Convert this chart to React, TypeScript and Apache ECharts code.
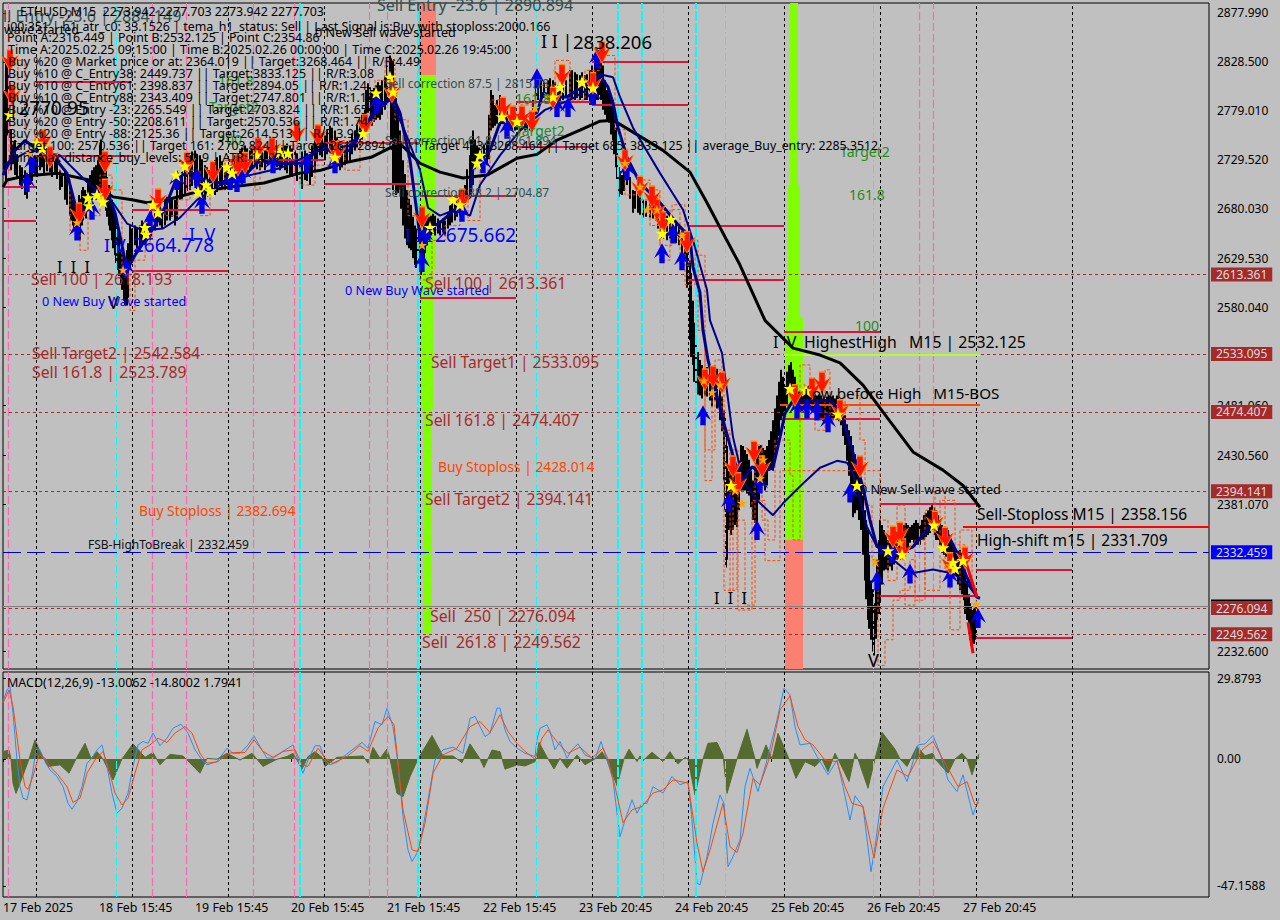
import React, { useEffect, useRef } from "react";
import * as echarts from "echarts";

// ---------- values (bar index, price / indicator value) ----------
const dayLabels = ["17 Feb 2025", "18 Feb 15:45", "19 Feb 15:45", "20 Feb 15:45", "21 Feb 15:45", "22 Feb 15:45", "23 Feb 20:45", "24 Feb 20:45", "25 Feb 20:45", "26 Feb 20:45", "27 Feb 20:45"];
const dayTicks = [0, 96, 192, 288, 384, 480, 576, 672, 768, 864, 960];
const priceTicks = [2877.99, 2828.5, 2779.01, 2729.52, 2680.03, 2629.53, 2580.04, 2481.06, 2430.56, 2381.07, 2232.6];
const macdTicks = [29.8793, 0, -47.1588];
const brownLevels = [2613.361, 2533.095, 2474.407, 2394.141, 2276.094, 2249.562];
const blueLevel = 2332.459;
const bidLevel = 2277.703;

const blackDays = [33, 129, 225, 321, 417, 513, 589, 685, 781, 877, 973, 1069];
const pinkDays = [5, 149, 183, 250, 291, 366, 384, 916, 930];
const cyanThin = [113, 533, 660, 722, 870];
const cyanThick = [297, 415, 615, 639, 693];

// [first bar, last bar, price]
const crimsonLevels = [
  [0, 33, 2701.8], [0, 33, 2667.4], [33, 129, 2808], [33, 129, 2734], [129, 225, 2678.6], [129, 225, 2617],
  [225, 321, 2730], [225, 321, 2687.7], [321, 417, 2746.3], [321, 417, 2704.9], [417, 513, 2692.7], [417, 513, 2589.5],
  [513, 589, 2787.8], [513, 589, 2743], [589, 685, 2828.3], [589, 685, 2784.8], [685, 781, 2662.4], [685, 781, 2607.8],
  [781, 877, 2556], [781, 877, 2468], [877, 973, 2382], [877, 973, 2288], [973, 1069, 2314.4], [973, 1069, 2245.6],
];
const redLevel = [960, 1206, 2358.156];
const limeLevel = [781, 977, 2532.125];
const orangeLevel = [777, 977, 2481.4];

// [first bar, last bar, top price, bottom price]
const limeBands = [
  [415, 433, 2815.2, 2618], [418, 430, 2618, 2476.4], [420, 429, 2476.4, 2250.8],
  [787, 795, 2888.1, 2704], [785, 797, 2704, 2570.4], [782, 800, 2570.4, 2344.8],
];
const salmonBands = [
  [415, 433, 2888.1, 2815.2], [782, 800, 2344.8, 2214.4],
];

// [bar, high, low]
const priceBars = [
  [3,2830,2709],[5,2830,2754],[8,2759.6,2719],[12,2749.5,2714],[17,2724,2704],[22,2719,2694],[27,2729,2704],[32,2734,2714],[37,2739,2719],[41,2739,2714],[47,2739,2717],[52,2734,2714],[57,2719,2699],[62,2719,2689],[67,2704,2673],[70,2689,2663],[73,2684,2653],[76,2694,2653],[79,2699,2663],[82,2699,2673],[85,2709,2684],[89,2719,2689],[93,2724,2689],[97,2744,2694],[100,2739,2694],[103,2719,2678],[106,2704,2663],[109,2689,2648],[112,2673,2633],[115,2663,2618],[118,2638,2603],[121,2633,2587],[124,2638,2582],[127,2663,2618],
  [132,2663,2643],[137,2663,2638],[142,2663,2643],[147,2673,2648],[152,2684,2658],[157,2684,2663],[162,2689,2663],[167,2694,2668],[172,2689,2663],[177,2714,2689],[182,2724,2694],[187,2734,2699],[192,2739,2704],[197,2734,2699],[202,2724,2689],[207,2719,2694],[212,2729,2694],[217,2734,2704],[222,2719,2699],[227,2724,2699],[232,2734,2709],[237,2739,2714],[242,2744,2714],[247,2739,2719],[252,2739,2724],[257,2734,2719],[262,2739,2719],[267,2749,2729],[272,2744,2724],[277,2739,2719],[282,2744,2719],[287,2744,2714],[292,2739,2714],[297,2734,2704],[302,2739,2709],[307,2734,2704],[312,2754,2719],[317,2759,2734],[322,2754,2729],[327,2764,2739],[332,2759,2734],[337,2744,2719],[342,2744,2724],[347,2749,2729],[352,2759,2739],[357,2770,2744],[362,2780,2754],[365,2807,2777],[369,2800,2764],[373,2805,2770],[377,2805,2770],[382,2815,2780],[387,2835,2790],[390,2830,2699],[393,2795,2694],[397,2759,2699],[400,2729,2663],[404,2699,2643],[408,2684,2638],[412,2663,2623],[415,2658,2618],[418,2653,2613],[421,2663,2628],[424,2673,2643],[428,2673,2653],[432,2673,2653],[437,2668,2653],[442,2668,2653],[447,2684,2663],[452,2689,2668],[457,2694,2673],[462,2704,2684],[467,2734,2694],[470,2759,2704],[474,2744,2724],[478,2739,2719],[484,2749,2724],[488,2800,2759],[492,2785,2764],[497,2795,2764],[502,2783,2770],[507,2775,2759],[512,2773,2759],[517,2773,2759],[522,2770,2759],[527,2775,2759],[533,2813,2793],[538,2810,2790],[545,2810,2790],[550,2810,2790],[555,2805,2785],[560,2805,2790],[567,2820,2790],[572,2818,2790],[577,2815,2790],[582,2815,2790],[587,2820,2785],[592,2835,2785],[595,2840,2790],[598,2835,2790],[602,2810,2775],[606,2797,2767],[610,2790,2749],[613,2762,2722],[616,2722,2692],[619,2714,2694],[624,2724,2704],[630,2699,2676],[635,2699,2676],[640,2689,2671],[647,2689,2671],[653,2684,2668],[658,2681,2651],[664,2673,2648],[670,2668,2651],[676,2663,2643],[682,2655,2628],
  [687,2628,2547],[690,2587,2522],[693,2547,2496],[697,2527,2491],[702,2517,2491],[707,2517,2486],[712,2522,2486],[717,2501,2466],[721,2476,2405],[723,2456,2317],[726,2415,2355],[730,2426,2355],[734,2415,2358],[738,2441,2395],[742,2436,2395],[746,2426,2390],[750,2405,2365],[754,2436,2360],[758,2441,2405],[762,2436,2395],[766,2446,2415],[770,2466,2415],[774,2491,2441],[778,2517,2466],[782,2501,2476],[786,2522,2496],[790,2517,2491],[794,2501,2471],[798,2491,2476],[802,2496,2476],[806,2501,2481],[810,2501,2476],[814,2491,2471],[818,2491,2466],[822,2486,2466],[826,2491,2471],[830,2491,2466],[834,2491,2471],[838,2481,2461],[842,2471,2441],[846,2456,2410],[850,2441,2368],[854,2426,2375],[858,2405,2355],[862,2375,2304],[865,2355,2264],[868,2304,2244],[871,2281,2228],[874,2325,2264],[877,2365,2284],[881,2355,2314],[885,2345,2314],[889,2340,2314],[893,2345,2325],[897,2350,2325],[901,2360,2330],[905,2360,2335],[909,2360,2345],[913,2365,2340],[917,2360,2340],[921,2370,2345],[925,2375,2350],[929,2380,2355],[933,2375,2345],[937,2365,2340],[941,2355,2330],[945,2355,2325],[949,2340,2319],[953,2335,2309],[957,2335,2294],[961,2330,2284],[964,2304,2264],[967,2281,2244],[969,2274,2233],[972,2278,2244],
];

// the bars between those above, [bar, high, low]
const priceBarsBetween = [
  [1,2800,2715],[10,2745,2725],[14,2735,2712],[19,2722,2700],[24,2712,2690],[29,2733,2708],[34,2730,2712],[39,2736,2722],[44,2742,2718],[49,2735,2712],[54,2728,2710],[59,2716,2702],[64,2712,2684],[68,2695,2668],[71,2686,2658],[74,2680,2660],[77,2690,2648],[80,2702,2668],[83,2695,2670],[87,2714,2690],[91,2722,2695],[95,2730,2693],[98,2750,2700],[101,2735,2690],[104,2712,2672],[107,2698,2658],[110,2684,2640],[113,2670,2625],[116,2655,2612],[119,2636,2598],[122,2628,2582],[125,2645,2590],[129,2660,2625],[134,2660,2640],[139,2668,2645],[144,2665,2648],[149,2678,2652],[154,2688,2662],[159,2680,2660],[164,2692,2668],[169,2690,2672],[174,2700,2668],[179,2718,2690],[184,2728,2698],[189,2738,2703],[194,2735,2700],[199,2730,2694],[204,2722,2692],[209,2725,2698],[214,2732,2697],[219,2728,2702],[224,2722,2704],[229,2730,2702],[234,2736,2712],[239,2742,2716],[244,2741,2717],[249,2742,2722],[254,2736,2720],[259,2737,2722],[264,2744,2725],[269,2746,2730],[274,2740,2722],[279,2742,2722],[284,2746,2716],[289,2741,2712],[294,2736,2708],[299,2738,2700],[304,2736,2708],[309,2744,2712],[314,2758,2728],[319,2756,2732],[324,2760,2735],[329,2762,2736],[334,2752,2726],[339,2740,2722],[344,2746,2728],[349,2756,2735],[354,2765,2742],[359,2775,2750],[363,2800,2765],[367,2803,2770],[371,2802,2768],[375,2808,2772],[379,2810,2775],[384,2825,2785],[388,2832,2750],[391,2810,2705],[395,2780,2696],[398,2745,2680],[402,2715,2650],[406,2690,2640],[410,2672,2630],[413,2660,2620],[416,2655,2616],[419,2658,2618],[422,2668,2635],[426,2672,2648],[430,2675,2655],[435,2670,2655],[440,2670,2656],[445,2676,2660],[449,2688,2666],[454,2692,2672],[459,2700,2678],[464,2720,2690],[468,2750,2700],[472,2750,2720],[476,2742,2722],[481,2745,2722],[486,2775,2730],[490,2795,2762],[494,2790,2766],[499,2790,2770],[504,2780,2765],[509,2774,2760],[514,2772,2760],[519,2771,2760],[524,2770,2760],[530,2790,2765],[535,2815,2790],[541,2808,2792],[547,2812,2792],[552,2808,2788],[557,2802,2788],[563,2810,2792],[569,2820,2792],[574,2816,2792],[579,2818,2792],[584,2816,2790],[589,2825,2788],[593,2838,2790],[596,2840,2795],[600,2825,2780],[604,2800,2770],[608,2795,2755],[611,2775,2735],[614,2745,2710],[617,2718,2695],[621,2718,2698],[627,2712,2690],[632,2698,2680],[637,2695,2674],[643,2688,2672],[650,2686,2670],[655,2678,2660],[661,2675,2650],[667,2670,2650],[673,2665,2645],[679,2658,2635],[684,2645,2600],[688,2615,2530],[691,2565,2505],[695,2535,2492],[699,2522,2488],[704,2520,2490],[709,2515,2480],[714,2518,2478],[719,2490,2455],[722,2470,2375],[724,2440,2325],[728,2420,2350],[732,2420,2360],[736,2425,2375],[740,2440,2395],[744,2432,2392],[748,2415,2378],[752,2420,2362],[756,2440,2385],[760,2438,2400],[764,2440,2400],[768,2455,2418],[772,2478,2430],[776,2505,2450],[780,2510,2470],[784,2515,2482],[788,2525,2498],[792,2510,2485],[796,2495,2475],[800,2493,2478],[804,2498,2478],[808,2500,2476],[812,2498,2474],[816,2492,2468],[820,2488,2465],[824,2490,2470],[828,2490,2468],[832,2488,2468],[836,2485,2465],[840,2476,2450],[844,2462,2425],[848,2450,2390],[852,2432,2372],[856,2415,2365],[860,2390,2330],[863,2365,2285],[866,2330,2255],[870,2295,2232],[873,2300,2245],[876,2345,2270],[879,2360,2300],[883,2350,2315],[887,2342,2318],[891,2344,2320],[895,2347,2325],[899,2355,2328],[903,2362,2335],[907,2358,2342],[911,2362,2342],[915,2362,2340],[919,2365,2345],[923,2372,2348],[927,2378,2352],[931,2378,2350],[935,2370,2345],[939,2360,2335],[943,2355,2328],[947,2345,2322],[951,2338,2314],[955,2334,2300],[959,2332,2290],[962,2315,2270],[966,2290,2250],[968,2278,2238],[971,2276,2240],
];

const emaLine = [[0,2702],[4,2709],[22,2713],[54,2716],[86,2709],[110,2692],[129,2689],[144,2686],[164,2689],[194,2697],[227,2702],[261,2706],[297,2716],[318,2719],[344,2727],[368,2732],[386,2741],[397,2746],[417,2726],[437,2717],[460,2711],[484,2714],[514,2731],[534,2735],[554,2749.5],[577,2759.6],[597,2768.6],[610,2769.6],[630,2757.5],[660,2739],[687,2717],[704,2686],[717,2661],[737,2623],[762,2567],[790,2539],[817,2532],[837,2524],[860,2501.5],[884,2469],[910,2434],[940,2415.6],[960,2400],[977,2378]];

const fastLine = [[0,2714],[12,2739],[22,2749],[42,2734],[52,2731],[64,2716],[75,2673],[82,2679],[92,2699],[102,2704],[112,2676],[120,2638],[124,2618],[132,2633],[144,2651],[157,2671],[164,2686],[174,2712],[187,2717],[202,2709],[217,2706],[244,2716],[257,2729],[270,2726],[304,2726],[317,2746],[330,2736],[347,2739],[374,2783],[390,2793],[397,2777],[407,2729],[415,2668],[419,2633],[427,2660],[437,2666],[457,2684],[467,2692],[470,2722],[487,2739],[497,2767],[504,2767],[534,2777],[540,2797],[554,2793],[564,2793],[584,2807],[597,2815],[605,2803],[610,2787],[615,2762],[624,2732],[637,2706],[657,2686],[674,2665],[687,2651],[690,2621],[697,2595],[700,2557],[705,2527],[720,2466],[732,2423],[740,2405],[749,2419],[757,2413],[770,2418],[777,2449],[782,2473],[790,2486],[807,2486],[827,2486],[837,2476],[850,2433],[860,2398],[867,2365],[874,2338],[880,2338],[897,2332],[910,2338],[930,2362],[944,2352],[954,2332],[964,2307],[974,2287],[977,2286]];

const slowLine = [[0,2724],[27,2739],[57,2734],[87,2704],[110,2686],[124,2665],[140,2658],[160,2660],[177,2671],[194,2689],[217,2704],[247,2714],[277,2721],[317,2739],[347,2744],[375,2780],[387,2790],[400,2763],[417,2719],[425,2681],[437,2673],[452,2679],[467,2673],[477,2704],[497,2734],[517,2759],[542,2780],[567,2790],[587,2802],[597,2816],[610,2813],[617,2793],[630,2762],[657,2716],[680,2679],[690,2648],[704,2598],[707,2567],[719,2534],[730,2449],[740,2405],[754,2385],[770,2370],[780,2382],[800,2402],[817,2418],[834,2425],[844,2423],[850,2413],[864,2358],[874,2338],[907,2311],[930,2315],[950,2311],[964,2301],[974,2287]];

const redStrokeA = [[960,2331.6],[974,2287]];
const redStrokeB = [[965,2261.8],[970,2230.4]];

const zigzagA = [[0,2719],[7,2790],[15,2830],[22,2760],[32,2739],[47,2729],[57,2714],[67,2658],[77,2638],[85,2673],[97,2714],[109,2699],[119,2618],[127,2577],[132,2628],[142,2643],[147,2679],[162,2673],[175,2689],[187,2719],[197,2673],[207,2699],[222,2729],[237,2734],[252,2699],[257,2739],[277,2744],[297,2704],[312,2724],[327,2749],[342,2719],[357,2770],[372,2810],[382,2830],[392,2770],[405,2673],[417,2608],[429,2648],[442,2663],[457,2699],[465,2668],[477,2719],[487,2790],[502,2754],[517,2785],[532,2805],[552,2830],[567,2790],[582,2820],[597,2835],[612,2760],[622,2694],[637,2709],[647,2663],[657,2628],[667,2679],[677,2623],[687,2648],[695,2557],[702,2436],[712,2527],[719,2456],[727,2294],[734,2365],[742,2279],[752,2441],[759,2365],[765,2345],[772,2446],[787,2410],[790,2345],[797,2522],[807,2507],[812,2456],[822,2517],[827,2471],[842,2491],[857,2446],[862,2380],[869,2325],[875,2218],[882,2244],[890,2284],[897,2294],[907,2325],[912,2284],[922,2375],[932,2395],[942,2314],[947,2254],[957,2355],[969,2294]];
const zigzagB = [[637,2689],[647,2699],[657,2643],[669,2684],[682,2603],[692,2633],[702,2405],[709,2517],[721,2294],[730,2436],[735,2274],[749,2385],[762,2324],[777,2415],[877,2365],[885,2304],[894,2380],[902,2279],[912,2345],[922,2294],[937,2385],[952,2340],[962,2314]];

const redArrows = [[7,2830],[9,2795],[40,2749],[47,2732],[102,2727],[102,2699],[76,2675],[155,2689],[184,2726],[210,2717],[235,2724],[242,2726],[294,2757],[315,2754],[255,2741],[269,2741],[334,2737],[362,2765],[389,2798],[419,2671],[459,2689],[500,2782],[510,2773],[519,2773],[529,2768],[550,2792],[559,2815],[590,2807],[599,2838],[622,2729],[637,2702],[649,2692],[654,2679],[660,2666],[684,2646],[702,2507],[710,2510],[719,2504],[730,2419],[735,2402],[751,2434],[759,2419],[792,2491],[809,2498],[819,2504],[837,2476],[857,2419],[890,2348],[897,2352],[900,2335],[932,2363],[942,2347],[947,2321],[962,2327]];
const blueArrows = [[24,2707],[74,2658],[89,2679],[29,2726],[174,2709],[194,2711],[147,2668],[199,2685],[234,2707],[227,2709],[123,2620],[240,2716],[270,2726],[304,2726],[332,2726],[374,2787],[419,2626],[422,2653],[459,2677],[480,2726],[504,2761],[554,2783],[565,2783],[590,2795],[594,2832],[534,2812],[624,2719],[659,2635],[670,2655],[679,2628],[700,2471],[726,2383],[754,2355],[757,2402],[804,2478],[814,2476],[794,2478],[825,2464],[847,2393],[874,2304],[889,2332],[907,2311],[947,2307],[975,2266]];
const yellowStars = [[7,2775],[34,2746],[39,2741],[85,2691],[86,2683],[94,2694],[100,2687],[142,2661],[143,2654],[150,2684],[155,2676],[173,2714],[182,2723],[195,2697],[203,2704],[207,2698],[224,2722],[229,2716],[277,2737],[285,2736],[332,2732],[254,2734],[360,2756],[373,2797],[387,2813],[390,2798],[427,2661],[474,2726],[477,2734],[450,2689],[457,2684],[499,2773],[514,2768],[557,2803],[550,2793],[579,2808],[590,2802],[668,2669],[659,2655],[728,2400],[787,2498],[803,2496],[835,2472],[854,2400],[885,2334],[899,2330],[931,2360],[940,2337],[950,2322],[952,2316],[960,2324]];
const orangeStars = [[74,2666],[120,2618],[27,2736],[419,2643],[532,2782],[622,2726],[637,2702],[644,2679],[654,2679],[660,2655],[679,2653],[701,2506],[709,2494],[717,2502],[732,2395],[739,2382],[760,2426],[757,2407],[872,2323],[973,2280],[897,2342],[940,2337],[947,2319]];

const macdMain = [[0,21.3],[4,25.7],[7,26.9],[10,17],[14,-0.4],[17,-10.3],[20,-14.6],[24,-15.2],[27,-10.3],[30,-4.1],[33,3.4],[37,3.4],[42,-1],[47,-4.1],[54,-6.5],[60,-10.3],[65,-16.5],[69,-18.7],[74,-15.8],[79,-10.3],[84,-1.6],[89,0.3],[94,3.4],[99,5.2],[104,-2.8],[109,-12.7],[114,-20.2],[119,-18.3],[125,-12.7],[130,-2.8],[135,5.2],[140,6.5],[145,5.8],[150,9.6],[157,4.9],[164,7.7],[170,11.4],[178,12.9],[185,9.6],[192,3.4],[199,-0.4],[204,-2.2],[214,-1],[224,4],[230,2.1],[237,2.1],[245,5.2],[251,8.6],[257,4.6],[264,0.3],[270,0.3],[280,2.8],[290,5.2],[295,-0.4],[300,-5.3],[305,-0.4],[312,4.9],[317,4.9],[322,-0.4],[327,-2.2],[335,-1],[347,2.8],[359,6.1],[365,4],[372,13.9],[379,12.7],[384,18.9],[390,12],[395,-1.6],[400,-21.4],[405,-33.8],[409,-38.1],[414,-35],[419,-27.6],[425,-15.2],[432,-0.4],[440,3.4],[450,4.4],[460,2.1],[467,15.1],[472,15.8],[482,8.3],[487,9.6],[494,18.9],[497,18.9],[502,10.8],[507,6.5],[514,4],[522,2.1],[532,0.9],[534,7.1],[537,11.4],[544,12.7],[547,10.2],[552,3.4],[557,6.5],[564,0.3],[569,3.4],[575,5.6],[582,1.5],[592,-0.1],[598,6.5],[604,-0.4],[610,-7.8],[614,-20.2],[617,-28.9],[622,-22.7],[629,-15.2],[634,-20.2],[639,-16.5],[644,-16.5],[650,-10.3],[660,-12.7],[669,-6.5],[677,-9.6],[685,-8.4],[689,-22.7],[694,-46.2],[697,-46.8],[704,-36.3],[710,-23.9],[717,-13.4],[721,-16.5],[725,-40],[730,-36.3],[737,-30.1],[742,-10.3],[747,-3.5],[755,-12.1],[764,-0.4],[774,14.5],[781,26.3],[787,23.8],[792,12],[797,5.2],[807,5.8],[814,0.9],[825,-5.9],[834,-0.4],[840,-10.3],[847,-22.7],[852,-13.7],[860,-17.7],[868,-41.9],[872,-32.6],[880,-10.3],[894,-0.4],[904,-8.4],[915,5.2],[922,5.6],[930,8.7],[937,2.1],[945,-7.8],[954,-12.1],[960,-5.9],[970,-20.8],[976,-14.6]];

const macdSignal = [[0,20.7],[6,25.7],[10,19.5],[17,-0.4],[22,-10.3],[25,-11.3],[30,-6.5],[36,1.5],[42,0.3],[47,-2.8],[55,-5.9],[64,-10.3],[70,-16.2],[77,-14.6],[84,-5.3],[92,-0.4],[100,2.8],[105,-2.8],[112,-12.7],[119,-17.1],[125,-14.6],[132,-5.3],[139,3.4],[147,5.2],[155,7.7],[164,6.1],[172,9.6],[182,12],[189,9.6],[197,2.1],[204,-1.6],[215,-1],[225,2.1],[234,2.4],[242,2.4],[251,7.1],[260,2.8],[270,0.6],[280,2.8],[292,3.4],[299,-2.2],[305,-2.8],[315,4],[322,0.3],[330,-1.6],[344,0.9],[357,4.9],[365,2.8],[375,11.4],[385,15.8],[391,12.7],[395,-1.6],[400,-18.9],[409,-33.8],[415,-34.4],[422,-23.9],[430,-5.3],[440,1.5],[454,4],[467,12],[477,13.9],[487,9.8],[497,16.4],[505,10.2],[514,5.8],[522,2.8],[532,-0.1],[539,7.7],[545,10.8],[555,5.8],[565,2.1],[577,4.4],[589,0.3],[600,4],[605,-0.1],[612,-10.3],[620,-23.7],[629,-18.9],[639,-17.7],[650,-12.7],[660,-11.5],[670,-7.8],[685,-9],[694,-31.3],[700,-41.9],[707,-33.8],[720,-16.5],[727,-32.6],[734,-34.8],[740,-27.6],[750,-7.2],[757,-9.6],[767,0.9],[777,18.2],[787,23.4],[795,12],[802,7.1],[810,5.2],[822,-0.4],[834,-1],[842,-10.3],[849,-16.5],[860,-17.7],[871,-36.9],[880,-18.3],[894,-4.1],[905,-6.5],[919,3.4],[930,6.5],[944,-2.8],[955,-10.3],[964,-8.4],[972,-17.1],[976,-16.2]];

const macdHist = [[0,2.7],[6,3.3],[8,0],[10,-9],[13,-12.8],[17,-9],[22,-4.1],[26,0],[32,7.1],[37,2.7],[41,0],[45,-2.8],[57,-2.2],[66,-5.3],[73,0],[82,5.8],[88,0.2],[94,2.7],[100,0],[110,-7.8],[119,0],[130,5.6],[142,0.6],[150,2.4],[155,-1],[157,-2.2],[167,1.7],[180,1.1],[184,-0.4],[197,-5.3],[204,0.2],[214,-0.1],[224,2.1],[237,-0.4],[249,2.1],[260,-2.8],[274,-0.1],[284,0.9],[290,2.1],[294,-0.4],[299,-3.8],[305,0.9],[312,2.7],[319,0.6],[322,-2.8],[334,0.6],[360,1.1],[365,-1.6],[370,4.3],[377,0.2],[384,3.7],[387,0],[394,-12.8],[400,-14],[407,-6.6],[415,0],[429,8.7],[440,1.1],[450,1.1],[459,-1.4],[467,5.6],[477,0],[481,-3.2],[489,3.3],[497,2.7],[502,-3.8],[514,-2.2],[522,-2.6],[532,-1],[533,0],[536,6.1],[545,0],[551,-3.7],[557,0.2],[564,-3.5],[574,1.5],[582,-2.2],[592,0],[599,2.7],[604,-0.4],[614,-9.9],[621,0],[626,3.6],[634,-1],[637,1.1],[640,-0.6],[649,2.5],[660,-1],[667,2.7],[675,-1.9],[682,0.6],[685,0],[692,-13.4],[700,0],[705,5.8],[714,6.1],[720,1.5],[724,-12.8],[734,0],[744,11],[752,0],[754,-3.5],[763,5.2],[769,0],[775,9.5],[786,0],[793,-7.2],[802,-1],[812,-2.8],[819,0],[825,-4.7],[832,2.1],[835,0],[846,-8.4],[852,2.1],[855,0],[865,-10.9],[872,0],[879,9.9],[892,3.6],[897,0],[904,-2.8],[914,4.6],[922,1.2],[930,2.1],[932,0],[945,-5.3],[952,0],[959,2.1],[964,0],[969,-5.9],[974,0],[976,1.9]];

// ---------- layout of the chart's texts ----------
const FONT = '"Noto Sans"';
const SLATE = "#2f4f4f";
const BROWN = "#a52a2a";
const GREEN = "#228b22";
const ORANGE = "#ff4500";
const BLUE = "#0000ff";
const BLACK = "#000000";

const overlayTexts: [number, number, string, string, number][] = [
  [3, 16, "ll Entry -23.6 | 2884.149", SLATE, 16],
  [377, 5, "Sell Entry -23.6 | 2890.894", SLATE, 16],
  [385, 83, "Sell correction 87.5 | 2815.78", SLATE, 12],
  [385, 140, "Sell correction 61.8 | 2761.894", SLATE, 12],
  [385, 192, "Sell correction 38.2 | 2704.87", SLATE, 12],
  [218, 80, "161.8", GREEN, 14],
  [209, 106, "Target2", GREEN, 14],
  [218, 139, "100", GREEN, 14],
  [515, 98, "161.8", GREEN, 14],
  [515, 130, "Target2", GREEN, 14],
  [840, 151, "Target2", GREEN, 14],
  [849, 194, "161.8", GREEN, 14],
  [855, 325, "100", GREEN, 14],
  [20, 11, "ETHUSD,M15  2273.942 2277.703 2273.942 2277.703", BLACK, 12.4],
  [4, 29, "wave started", BLACK, 12.4],
  [7, 26, "i00:351 | h1_atr_c0: 33.1526 | tema_h1_status: Sell | Last Signal is:Buy with stoploss:2000.166", BLACK, 12.4],
  [315, 32, "0 New Sell wave started", BLACK, 12.7],
  [7, 37, "Point A:2316.449 | Point B:2532.125 | Point C:2354.86", BLACK, 12.4],
  [8, 49, "Time A:2025.02.25 09:15:00 | Time B:2025.02.26 00:00:00 | Time C:2025.02.26 19:45:00", BLACK, 12.4],
  [8, 61, "Buy %20 @ Market price or at: 2364.019 || Target:3268.464 || R/R:4.49", BLACK, 12.4],
  [8, 73, "Buy %10 @ C_Entry38: 2449.737 || Target:3833.125 || R/R:3.08", BLACK, 12.4],
  [8, 85, "Buy %10 @ C_Entry61: 2398.837 || Target:2894.05 || R/R:1.24", BLACK, 12.4],
  [8, 97, "Buy %10 @ C_Entry88: 2343.409 || Target:2747.801 || R/R:1.18", BLACK, 12.4],
  [8, 109, "Buy %10 @ Entry -23: 2265.549 || Target:2703.824 || R/R:1.65", BLACK, 12.4],
  [8, 121, "Buy %20 @ Entry -50: 2208.611 || Target:2570.536 || R/R:1.74", BLACK, 12.4],
  [8, 133, "Buy %20 @ Entry -88: 2125.36 || Target:2614.513 || R/R:3.91", BLACK, 12.4],
  [10, 145, "Target 100: 2570.536 || Target 161: 2703.824 || Target 261: 2894.05 || Target 423: 3268.464 || Target 685: 3833.125 || average_Buy_entry: 2285.3512", BLACK, 12.3],
  [8, 157, "min_max distance_buy_levels: 50.9 | ATR: 14.22", BLACK, 12.4],
  [8, 108, "|2770.95", BLACK, 19],
  [541, 41, "I I |", BLACK, 18],
  [573, 41, "2838.206", BLACK, 18.5],
  [57, 267, "I  I  I", BLACK, 16],
  [108, 302, "V", BLACK, 18],
  [104, 245, "I V", BLUE, 18],
  [133, 245, "2664.778", BLUE, 19],
  [189, 234, "I  V", BLUE, 18],
  [405, 235, "I I I", BLUE, 18],
  [435, 235, "2675.662", BLUE, 19],
  [42, 301, "0 New Buy Wave started", BLUE, 12.7],
  [345, 290, "0 New Buy Wave started", BLUE, 12.7],
  [31, 279, "Sell 100 | 2618.193", BROWN, 15.8],
  [425, 283, "Sell 100 | 2613.361", BROWN, 15.8],
  [32, 353, "Sell Target2 | 2542.584", BROWN, 15.6],
  [32, 372, "Sell 161.8 | 2523.789", BROWN, 15.8],
  [431, 362, "Sell Target1 | 2533.095", BROWN, 15.6],
  [425, 420, "Sell 161.8 | 2474.407", BROWN, 15.8],
  [438, 466, "Buy Stoploss | 2428.014", ORANGE, 13.8],
  [425, 499, "Sell Target2 | 2394.141", BROWN, 15.6],
  [139, 510, "Buy Stoploss | 2382.694", ORANGE, 13.8],
  [88, 544, "FSB-HighToBreak | 2332.459", "#101018", 12],
  [430, 616, "Sell  250 | 2276.094", BROWN, 15.8],
  [422, 642, "Sell  261.8 | 2249.562", BROWN, 15.8],
  [773, 342, "I  V", BLACK, 16],
  [804, 342, "HighestHigh   M15 | 2532.125", BLACK, 15.8],
  [804, 393, "Low before High   M15-BOS", BLACK, 15.2],
  [860, 489, "0 New Sell wave started", BLACK, 12.7],
  [977, 514, "Sell-Stoploss M15 | 2358.156", BLACK, 15.5],
  [977, 540, "High-shift m15 | 2331.709", BLACK, 15.5],
  [714, 598, "I  I  I", BLACK, 16],
  [868, 660, "V", BLACK, 18],
  [7, 682, "MACD(12,26,9) -13.0062 -14.8002 1.7941", BLACK, 12.5],
];

const ARROW_DOWN = "path://M12 24 L0 6 L8 11 L8 0 L16 0 L16 11 L24 6 Z";
const ARROW_UP = "path://M12 0 L0 18 L8 13 L8 24 L16 24 L16 13 L24 18 Z";
const STAR = "path://M12 0 L15 9 L24 9 L17 14 L20 24 L12 18 L4 24 L7 14 L0 9 L9 9 Z";

function vertical(values: number[], color: string, width: number, dash: number[]) {
  return values.map((v) => ({ xAxis: v, lineStyle: { color, width, type: dash } }));
}

function verticalSeries(xAxisIndex: number, yAxisIndex: number) {
  return {
    type: "line",
    xAxisIndex,
    yAxisIndex,
    data: [],
    z: 2,
    silent: true,
    markLine: {
      silent: true,
      symbol: "none",
      animation: false,
      label: { show: false },
      data: [
        ...vertical(cyanThin, "#00ffff", 1, [8, 3, 2, 3]),
        ...vertical(cyanThick, "#00ffff", 2, [10, 2]),
        ...vertical(pinkDays, "#ff69b4", 1.2, [8, 3]),
        ...vertical(blackDays, "#000000", 1, [3, 3]),
      ],
    },
  };
}

function segmentPairs(rows: number[][], color: string, width: number) {
  return rows.map((r) => [
    { coord: [r[0], r[2]], lineStyle: { color, width, type: "solid" } },
    { coord: [r[1], r[2]] },
  ]);
}

function tag(value: number, bg: string, lineColor: string, type: any) {
  return {
    yAxis: value,
    lineStyle: { color: lineColor, width: 1, type },
    label: {
      show: true,
      position: "end",
      distance: 2,
      formatter: value.toFixed(3),
      backgroundColor: bg,
      color: "#dcdcdc",
      fontFamily: FONT,
      fontSize: 12,
      padding: [1, 5, 1, 5],
    },
  };
}

const drawBar = (_: any, api: any) => {
  const a = api.coord([api.value(0), api.value(1)]);
  const b = api.coord([api.value(0), api.value(2)]);
  return {
    type: "line",
    shape: { x1: a[0], y1: a[1], x2: b[0], y2: b[1] },
    style: { stroke: "#000", lineWidth: 2 },
  };
};

export default function App() {
  const ref = useRef<HTMLDivElement>(null);

  useEffect(() => {
    document.body.style.margin = "0";
    const chart = echarts.init(ref.current!, undefined, { renderer: "svg" });

    const mkLine = (data: number[][], color: string, width: number, z: number) => ({
      type: "line",
      data,
      xAxisIndex: 0,
      yAxisIndex: 0,
      showSymbol: false,
      symbol: "none",
      smooth: false,
      z,
      lineStyle: { color, width },
    });
    const mkScatter = (data: number[][], symbol: string, size: number | number[], color: string, z: number) => ({
      type: "scatter",
      data,
      xAxisIndex: 0,
      yAxisIndex: 0,
      symbol,
      symbolSize: size,
      z,
      itemStyle: { color, opacity: 1 },
    });
    const mkBars = (data: number[][]) => ({
      type: "custom",
      xAxisIndex: 0,
      yAxisIndex: 0,
      z: 4,
      silent: true,
      data,
      encode: { x: 0, y: [1, 2] },
      clip: true,
      renderItem: drawBar,
    });

    chart.setOption({
      animation: false,
      backgroundColor: "#c0c0c0",
      textStyle: { fontFamily: FONT },
      grid: [
        { left: 3, top: 3, width: 1206, height: 666, show: true, borderColor: "#000", borderWidth: 1, backgroundColor: "transparent" },
        { left: 3, top: 672, width: 1206, height: 225, show: true, borderColor: "#000", borderWidth: 1, backgroundColor: "transparent" },
      ],
      xAxis: [
        { type: "value", gridIndex: 0, min: 0, max: 1206, show: false, splitLine: { show: false } },
        {
          type: "value",
          gridIndex: 1,
          min: 0,
          max: 1206,
          splitLine: { show: false },
          axisLine: { show: false },
          axisTick: { show: true, length: 3, lineStyle: { color: "#000" }, customValues: dayTicks },
          axisLabel: {
            color: "#000",
            fontSize: 12.4,
            margin: 4,
            align: "left",
            customValues: dayTicks,
            showMinLabel: true,
            showMaxLabel: true,
            hideOverlap: false,
            formatter: (v: number) => dayLabels[dayTicks.indexOf(v)] ?? "",
          },
        },
      ],
      yAxis: [
        {
          type: "value",
          gridIndex: 0,
          position: "right",
          min: 2214.4,
          max: 2888.1,
          splitLine: { show: false },
          axisLine: { show: false },
          axisTick: { show: true, length: 3, lineStyle: { color: "#000" }, customValues: priceTicks },
          axisLabel: { color: "#000", fontSize: 12, margin: 8, customValues: priceTicks, formatter: (v: number) => v.toFixed(3) },
        },
        {
          type: "value",
          gridIndex: 1,
          position: "right",
          min: -51.3,
          max: 32.3,
          splitLine: { show: false },
          axisLine: { show: false },
          axisTick: { show: true, length: 3, lineStyle: { color: "#000" }, customValues: macdTicks },
          axisLabel: {
            color: "#000",
            fontSize: 12,
            margin: 8,
            customValues: macdTicks,
            formatter: (v: number) => (v === 0 ? "0.00" : v.toFixed(4)),
          },
        },
      ],
      graphic: {
        elements: overlayTexts.map(([x, y, text, fill, size]) => ({
          type: "text",
          x,
          y,
          z: 50,
          silent: true,
          style: { text, fill, font: `${size}px ${FONT}`, verticalAlign: "middle", align: "left" },
        })),
      },
      series: [
        {
          type: "line",
          xAxisIndex: 0,
          yAxisIndex: 0,
          data: [],
          z: 1,
          silent: true,
          markArea: {
            silent: true,
            data: [
              ...limeBands.map((b) => [
                { coord: [b[0], b[2]], itemStyle: { color: "#7fff00", opacity: 1 } },
                { coord: [b[1], b[3]] },
              ]),
              ...salmonBands.map((b) => [
                { coord: [b[0], b[2]], itemStyle: { color: "#fa8072", opacity: 1 } },
                { coord: [b[1], b[3]] },
              ]),
            ],
          },
        },
        verticalSeries(0, 0),
        verticalSeries(1, 1),
        {
          type: "line",
          xAxisIndex: 0,
          yAxisIndex: 0,
          data: [],
          z: 3,
          silent: true,
          markLine: {
            silent: true,
            symbol: "none",
            animation: false,
            label: { show: false },
            data: [
              tag(bidLevel, "#000000", "#808080", "solid"),
              ...brownLevels.map((v) => tag(v, "#a52a2a", "#a52a2a", [3, 3])),
              tag(blueLevel, "#0000ff", "#0000cd", [18, 6]),
            ],
          },
        },
        mkBars(priceBars),
        mkBars(priceBarsBetween),
        {
          ...mkLine(zigzagA, "#ff4500", 1, 5),
          step: "end",
          lineStyle: { color: "#ff4500", width: 1, type: [3, 2] },
        },
        {
          ...mkLine(zigzagB, "#ff4500", 1, 5),
          step: "end",
          lineStyle: { color: "#ff4500", width: 1, type: [3, 2] },
        },
        mkLine(emaLine, "#000000", 3, 6),
        mkLine(slowLine, "#00008b", 2, 7),
        mkLine(fastLine, "#00008b", 3, 8),
        {
          type: "line",
          xAxisIndex: 0,
          yAxisIndex: 0,
          data: [],
          z: 9,
          silent: true,
          markLine: {
            silent: true,
            symbol: "none",
            animation: false,
            label: { show: false },
            data: [
              ...segmentPairs(crimsonLevels, "#dc143c", 2),
              ...segmentPairs([redLevel], "#ff0000", 2),
              ...segmentPairs([limeLevel], "#adff2f", 2),
              ...segmentPairs([orangeLevel], "#ff4500", 2),
            ],
          },
        },
        mkLine(redStrokeA, "#ff0000", 3, 10),
        mkLine(redStrokeB, "#ff0000", 3, 10),
        mkScatter(blueArrows, ARROW_UP, [16, 20], "#0000e6", 11),
        mkScatter(redArrows, ARROW_DOWN, [19, 23], "#ff8c00", 12),
        mkScatter(redArrows, ARROW_DOWN, [16, 20], "#ff1500", 13),
        mkScatter(orangeStars, STAR, 10, "#ffa500", 14),
        mkScatter(yellowStars, STAR, 13, "#ffff00", 15),
        {
          type: "line",
          xAxisIndex: 1,
          yAxisIndex: 1,
          data: macdHist,
          symbol: "none",
          z: 3,
          lineStyle: { color: "#556b2f", width: 1 },
          areaStyle: { color: "#556b2f", opacity: 1, origin: 0 },
        },
        {
          type: "line",
          xAxisIndex: 1,
          yAxisIndex: 1,
          data: macdMain,
          symbol: "none",
          z: 4,
          lineStyle: { color: "#1e90ff", width: 1 },
        },
        {
          type: "line",
          xAxisIndex: 1,
          yAxisIndex: 1,
          data: macdSignal,
          symbol: "none",
          z: 5,
          lineStyle: { color: "#ff4500", width: 1 },
        },
      ],
    });

    return () => chart.dispose();
  }, []);

  return <div ref={ref} style={{ width: 1280, height: 920, background: "#c0c0c0" }} />;
}
